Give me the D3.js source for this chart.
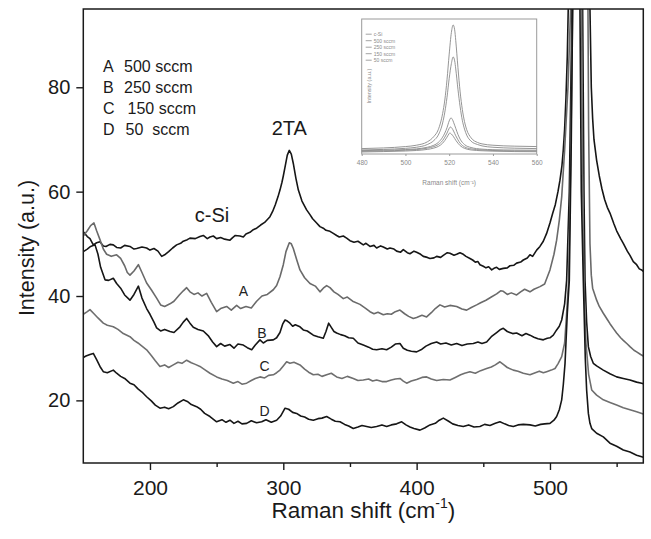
<!DOCTYPE html>
<html>
<head>
<meta charset="utf-8">
<script src="https://cdn.jsdelivr.net/npm/d3@7/dist/d3.min.js"></script>
<style>
  html, body { margin: 0; padding: 0; background: #fff; }
  svg { display: block; font-family: "Liberation Sans", Arial, Helvetica, sans-serif; }
</style>
</head>
<body>
<svg id="chart" width="651" height="539"></svg>
<script>
// Raman spectra of Si films: [wavenumber cm^-1, intensity a.u.]
const cSi = [
  [150,52.3],[153,51.4],[155,51.0],[157.5,49.8],[160,50.2],[162.5,50.4],[165,49.6],[167,49.5],[170,49.9],[172.5,49.8],
  [175,49.3],[178,49.2],[181,49.7],[185,49.5],[188,49.0],[190,49.1],[194,49.4],[197.5,49.2],[200,48.8],[203,49.1],
  [206,48.6],[208.8,47.6],[211,47.9],[214,48.5],[217,49.2],[220,49.8],[223,50.1],[225,50.5],[228,50.8],[230,51.1],
  [234,51.0],[237.5,51.4],[240,51.6],[243,51.0],[245,51.3],[247.5,51.5],[250,51.0],[253,51.2],[256,50.9],[260,50.7],
  [262,51.2],[264,51.6],[267.5,51.5],[270,51.3],[272,51.9],[275,52.2],[277.5,52.7],[280,53.0],[283,53.6],[286,54.1],
  [290,55.2],[292,56.2],[294,57.5],[296,59.0],[297.5,60.3],[299,61.8],[300,63.0],[301.5,65.0],[303,67.0],[304.5,67.9],
  [306,67.2],[307.5,65.4],[309.5,62.5],[311.3,60.3],[314,58.2],[317.5,56.5],[320,55.6],[322,54.8],[325,54.0],[327.5,53.3],
  [330,53.0],[332,52.6],[335,52.4],[337.5,52.0],[340,51.6],[342,51.3],[345,51.5],[347.5,51.1],[350,50.6],[353,50.3],
  [356,50.5],[360,49.8],[362,50.1],[365,49.5],[368,49.7],[370,49.2],[373,49.6],[375,49.4],[378,49.0],[380,49.2],
  [383,49.0],[385,48.6],[388,48.4],[390,48.9],[393,48.3],[395,48.1],[398,48.6],[400,48.4],[403,48.0],[405,47.6],
  [408,47.4],[410,47.2],[413,47.3],[415,47.6],[418,47.4],[420,47.8],[423,48.3],[425,48.2],[428,47.8],[430,48.0],
  [432.5,48.3],[435,48.0],[437,47.6],[440,47.2],[442,46.9],[444,46.5],[446,46.6],[447.5,46.0],[450,45.7],[452,45.4],
  [454,45.6],[456.3,45.0],[458,45.3],[460,45.5],[462,45.1],[465,45.3],[468,45.4],[470,45.8],[473,45.9],[475,46.3],
  [478,46.5],[480,46.9],[483,47.3],[485,47.9],[487,47.6],[490,48.8],[492.5,49.5],[495,50.5],[497.5,52.0],[500,54.0],
  [502,55.8],[504,57.5],[506,60.0],[507.5,62.2],[509,65.0],[510,68.0],[511,72.0],[512,78.0],[513,86.0],[513.7,95.0],
  [514.5,115.0],[516,160.0],[518.5,260.0],[521.5,400.0],[524.5,260.0],[527.5,150.0],[529,115.0],[530,95.0],[531,80.0],
  [532,74.0],[533,70.0],[535,66.0],[537,63.0],[539,60.5],[541,58.5],[543,57.0],[545,55.9],[548,53.8],[550,52.5],
  [553,51.0],[555,50.1],[558,48.6],[560,47.8],[562.5,46.6],[565,46.0],[567,45.2],[568.8,45.0],[570,44.7]
];

const seriesA = [
  [150,51.5],[153,52.5],[155.5,53.5],[158,54.0],[160,52.5],[162.5,50.8],[165,49.0],[167.5,48.0],[171,47.6],[175,47.9],
  [178,47.2],[181,45.8],[183,44.5],[185,44.0],[188,44.8],[191.3,46.0],[194,44.5],[197.5,42.5],[201,41.2],[205,39.6],
  [208,38.3],[211,38.0],[215,38.5],[218,39.0],[222,40.2],[225,41.0],[227.5,41.6],[230,40.8],[233,40.3],[236,40.6],
  [239,40.0],[242.5,40.5],[246,38.8],[250,37.0],[253,37.6],[257.5,38.0],[261,37.3],[265,38.2],[268,37.6],[272,38.0],
  [276,37.7],[280,39.0],[284,40.0],[288,40.3],[292.5,41.2],[295,42.0],[297.5,43.7],[300,46.0],[302,48.5],[304.5,50.2],
  [306,50.0],[307.5,49.1],[310,47.0],[312.5,45.0],[316,43.5],[320,42.4],[324,41.9],[327.5,40.8],[330,41.5],[332.5,42.0],
  [335,41.6],[338,40.8],[341,40.3],[345,39.5],[348,39.8],[352,39.0],[357.5,38.4],[362,37.6],[365,37.0],[368,36.6],
  [371,36.9],[375,36.4],[378,36.6],[381,36.5],[384,37.0],[387.5,37.3],[391,36.6],[394,36.1],[397.5,35.7],[400,35.9],
  [404,36.3],[407.5,36.0],[411,36.8],[414,37.6],[417.5,38.3],[421,37.9],[425,38.2],[430,38.0],[434,37.5],[437.5,37.3],
  [441,37.8],[445,38.3],[448,38.7],[452,39.2],[456,39.8],[460,40.4],[463,41.0],[465,40.9],[468,40.3],[471,40.6],
  [475,40.2],[478,40.8],[481,41.3],[485,40.8],[488,41.3],[492.5,41.8],[496,42.3],[500,45.0],[503,48.0],[505,50.7],
  [507,54.5],[508.8,59.0],[511,68.0],[513.5,80.0],[515.5,95.0],[516.5,130.0],[518.5,230.0],[521,400.0],[523.5,230.0],
  [525.5,150.0],[527.5,115.0],[528.5,95.0],[529,72.0],[530,50.0],[531,44.0],[532,41.5],[535,39.2],[537,38.0],[540,36.7],
  [543,35.5],[545,34.7],[548,33.6],[550,32.9],[553,32.0],[555,31.5],[558,30.8],[560,30.3],[563,29.6],[565,29.3],
  [568,28.8],[570,28.5]
];

const seriesB = [
  [150,48.5],[153,49.0],[155.5,49.5],[158.8,49.8],[161,48.0],[163,45.5],[166.3,43.1],[169,43.0],[172.5,43.4],[175,42.4],
  [178,41.5],[181,40.2],[185,39.2],[188,40.3],[191.3,41.9],[194,39.6],[197.5,37.6],[200,36.5],[203,35.0],[205,33.9],
  [208,33.3],[211,33.6],[215,33.2],[218,33.0],[222.5,34.1],[225,35.0],[227.5,35.7],[230,34.8],[232.5,34.0],[236,33.6],
  [240,33.3],[244,32.3],[247,31.2],[250,30.3],[253,30.9],[256,30.4],[260,30.7],[263,30.0],[266,30.8],[270,30.6],
  [273,30.1],[276.3,29.7],[279,30.6],[282.5,31.6],[285,31.0],[288,31.5],[292.5,31.6],[295,32.0],[297.5,33.0],[299.5,34.6],
  [301.3,35.4],[303,35.2],[305,34.8],[307,34.2],[309,34.5],[312.5,34.1],[315,33.5],[318,33.3],[322.5,32.5],[326,32.2],
  [330,31.9],[332,33.2],[334,34.8],[336,34.0],[338,33.2],[340,32.9],[343,32.6],[346,32.4],[349,32.0],[352.5,31.9],
  [356,31.0],[360,30.6],[364,30.2],[367,29.8],[370,29.7],[374,29.9],[377.5,29.7],[381,30.2],[384,30.8],[387.5,30.9],
  [390,30.0],[393,29.6],[396,29.4],[400,29.3],[404,29.8],[407,30.4],[411,30.9],[415,31.2],[418,30.8],[422,31.0],
  [426,30.6],[430,30.9],[434,30.5],[438,30.8],[442.5,30.9],[446,31.2],[449,30.9],[452.5,31.2],[456,32.2],[460,33.0],
  [463,33.6],[465,33.8],[468,33.2],[472,32.8],[475,32.9],[479,32.4],[482,32.8],[485,32.5],[488,32.1],[491,31.8],
  [495,31.6],[498,31.9],[500,32.0],[502.5,32.5],[505,33.5],[507,34.2],[508.8,35.4],[511,38.5],[512.5,43.0],[514.5,60.0],
  [516.5,95.0],[517.5,140.0],[520.5,400.0],[523.5,140.0],[524.5,95.0],[525.5,60.0],[526.3,43.0],[527.5,35.0],[528.8,30.3],
  [530.5,28.4],[532.5,27.1],[535,26.6],[540,25.8],[545,25.1],[550,24.5],[555,24.2],[560,23.9],[565,23.5],[568.8,23.3],
  [570,23.2]
];

const seriesC = [
  [150,36.5],[153,37.0],[155,37.4],[158,36.6],[161,35.8],[165,34.8],[168,34.4],[172.5,34.1],[176,33.6],[180,32.8],
  [185,32.2],[188,31.5],[191,31.0],[194,30.4],[197.5,29.7],[201,28.6],[204,27.6],[207.5,26.5],[211,26.8],[214,26.3],
  [217.5,26.8],[221,27.3],[224,27.1],[227.5,27.7],[231,27.2],[234,26.9],[237.5,26.5],[241,25.9],[245,25.2],[250,24.5],
  [254,24.1],[258,23.8],[262.5,23.3],[266,23.6],[269,23.1],[272.5,23.3],[276,23.8],[279,24.2],[282.5,24.5],[286,24.3],
  [289,24.8],[292.5,24.9],[295,25.3],[297.5,25.8],[300,26.6],[302.5,27.4],[305,27.1],[308,27.3],[312.5,26.8],[316,26.0],
  [319,25.4],[322.5,24.9],[326,25.0],[329,24.6],[332.5,24.9],[336,25.2],[340,24.5],[344,24.2],[348,24.6],[352.5,24.2],
  [356,23.8],[360,23.9],[364,24.1],[367,23.7],[370,23.9],[374,23.6],[377.5,23.6],[381,23.9],[384,24.1],[387.5,24.2],
  [390,23.7],[392.5,23.3],[396,23.7],[400,24.0],[404,24.4],[407.5,24.5],[411,24.1],[415,23.8],[420,24.0],[425,23.9],
  [429,24.4],[433,24.9],[436,25.2],[440,25.5],[444,25.2],[448,25.7],[452.5,26.1],[456,26.4],[459,26.8],[462.5,27.4],
  [465,26.9],[468,26.3],[472.5,25.8],[476,25.6],[480,25.2],[485,24.9],[488,25.2],[492,25.6],[495,25.3],[497.5,25.5],
  [501,25.8],[503.8,26.1],[506,27.0],[508.8,28.4],[511,31.0],[512.5,36.7],[514,43.0],[515.5,65.0],[517,95.0],[518,140.0],
  [520.5,400.0],[523,140.0],[523.7,95.0],[524.5,62.0],[525.5,42.0],[527,31.0],[529,25.0],[531.3,22.0],[535,21.0],[540,20.1],
  [545,19.6],[550,19.1],[555,18.6],[560,18.2],[565,17.8],[570,17.4]
];

const seriesD = [
  [150,28.2],[152,28.5],[155,28.8],[157.5,29.0],[160,27.8],[162.5,26.5],[165,25.5],[168,25.3],[172.5,25.8],[175,25.2],
  [178,24.6],[181,24.2],[185,23.3],[188,23.0],[191,22.2],[194,21.6],[197.5,20.7],[201,19.9],[204,19.1],[207.5,18.5],
  [211,18.7],[214,18.4],[217.5,18.8],[221,19.5],[225,20.1],[228,19.8],[231,19.2],[235,18.8],[238,18.3],[241,17.5],
  [245,16.9],[250,15.9],[254,16.3],[257,15.8],[260,16.2],[263,15.6],[266,16.0],[269,15.5],[272.5,15.6],[276,16.1],
  [280,15.7],[283.8,15.9],[287,16.3],[291,15.8],[295,16.2],[298,17.0],[301.3,18.5],[304,18.3],[307,17.7],[310,17.5],
  [313,17.0],[316,16.8],[319,16.4],[322.5,16.2],[326,16.5],[329,16.6],[332.5,16.9],[336,16.4],[339,16.0],[342.5,15.9],
  [346,15.4],[349,15.1],[352.5,14.6],[356,14.9],[359,15.2],[362.5,15.0],[366,14.8],[370,15.0],[374,15.3],[377.5,15.0],
  [381,15.3],[385,15.5],[388.8,15.9],[392,15.3],[395,14.9],[398,14.6],[402.5,14.3],[406,14.7],[410,15.3],[414,15.6],
  [417,16.2],[420,16.6],[424,16.0],[427,15.5],[431,15.2],[435,15.0],[439,15.3],[443,14.9],[447.5,15.0],[451,15.4],
  [455,15.2],[459,15.6],[462.5,15.9],[466,15.5],[469,15.2],[472.5,15.0],[476,15.3],[480,15.4],[485,15.3],[489,15.1],
  [493,15.4],[496,15.5],[500,15.6],[503,16.2],[505,16.9],[507,18.2],[508.8,20.1],[510,23.0],[511.3,27.1],[513,36.7],
  [514.5,43.0],[516,70.0],[517,95.0],[518,140.0],[520,400.0],[522,140.0],[522.5,95.0],[523.5,60.0],[525,43.0],[526.5,28.0],
  [527.5,22.0],[528.8,17.5],[530,15.6],[531.3,14.6],[535,13.7],[540,13.0],[545,11.8],[550,11.2],[555,10.5],[560,10.1],
  [565,9.5],[568.8,9.2],[570,9.1]
];

const series = [
  { key: "c-Si", data: cSi,     color: "#161616" },
  { key: "A",    data: seriesA, color: "#6a6a6a" },
  { key: "B",    data: seriesB, color: "#161616" },
  { key: "C",    data: seriesC, color: "#6f6f6f" },
  { key: "D",    data: seriesD, color: "#161616" }
];

const xTicks = [200, 300, 400, 500];
const xMinorTicks = [250, 350, 450, 550];
const yTicks = [20, 40, 60, 80];

const legendLines = [
  ["A", "500 sccm", 0], ["B", "250 sccm", 0], ["C", "150 sccm", 3.5], ["D", "50  sccm", 1.5]
];

const curveLabels = [
  { text: "A", x: 270, y: 40.0 },
  { text: "B", x: 284, y: 32.0 },
  { text: "C", x: 286, y: 25.6 },
  { text: "D", x: 286, y: 17.0 }
];

// Inset: Si optical-phonon peak, same samples, 480-560 cm^-1
const insetKeys = ["c-Si", "500 sccm", "250 sccm", "150 sccm", "50 sccm"];
const insetCSi = [[480,4.0],[490,4.5],[500,5.5],[505,6.5],[510,9],[513,13],[515,18],[517,30],[518,40],[519,55],[520,74],[521,90],[521.8,95.6],[522.5,92],[523,84],[524,64],[525,46],[526,33],[527,24],[528,18],[530,12],[533,8.5],[535,7.5],[540,6.5],[550,5.8],[560,5.5]];
const inset500 = [[480,3],[490,3.4],[500,4.2],[505,5],[510,7],[513,10],[515,14],[517,23],[518,31],[519,42],[520,56],[521,67],[521.8,71.9],[522.5,69],[523,63],[524,48],[525,35],[526,25],[527,18.5],[528,14],[530,9.5],[533,7],[535,6],[540,5],[550,4.3],[560,4]];
const inset250 = [[480,2.5],[490,2.8],[500,3.3],[505,3.8],[510,5],[513,6.5],[515,8.5],[517,12.5],[518,15.5],[519,19.5],[520,24.5],[520.8,26.7],[521.5,25.5],[522,23.5],[523,19],[524,14.5],[525,11],[527,7],[530,4.8],[535,3.6],[540,3.2],[550,2.9],[560,2.8]];
const inset150 = [[480,2.0],[490,2.3],[500,2.8],[505,3.3],[510,4.3],[513,5.5],[515,7],[517,10],[518,12.5],[519,15.5],[520,19],[520.5,20],[521.3,19],[522,17],[523,13.5],[524,10.5],[525,8],[527,5.3],[530,3.8],[535,3],[540,2.6],[550,2.3],[560,2.2]];
const inset50 = [[480,1.5],[490,1.8],[500,2.2],[505,2.6],[510,3.4],[513,4.4],[515,5.6],[517,8],[518,10],[519,12.5],[520,15.2],[520.2,15.6],[521,14.8],[522,12.8],[523,10.2],[524,8],[525,6.2],[527,4.2],[530,3],[535,2.4],[540,2.1],[550,1.8],[560,1.7]];
const insetSeries = [insetCSi, inset500, inset250, inset150, inset50];
const insetXTicks = [480, 500, 520, 540, 560];

// ---------- main plot ----------
const svg = d3.select("#chart");
const plot = { left: 83.3, right: 643.3, top: 9, bottom: 463 };

const x = d3.scaleLinear().domain([150, 570]).range([plot.left, plot.right]);
const y = d3.scaleLinear().domain([8, 95]).range([plot.bottom, plot.top]);

svg.append("rect").attr("width", 651).attr("height", 539).attr("fill", "#fff");

svg.append("defs").append("clipPath").attr("id", "plotClip")
  .append("rect")
  .attr("x", plot.left).attr("y", plot.top)
  .attr("width", plot.right - plot.left).attr("height", plot.bottom - plot.top);

const line = d3.line().x(d => x(d[0])).y(d => y(d[1]));

const lines = svg.append("g").attr("clip-path", "url(#plotClip)");
lines.selectAll("path")
  .data(series)
  .join("path")
  .attr("d", d => line(d.data))
  .attr("fill", "none")
  .attr("stroke", d => d.color)
  .attr("stroke-width", 1.6)
  .attr("stroke-linejoin", "round");

// axes
const xAxis = svg.append("g")
  .attr("transform", `translate(0,${plot.bottom})`)
  .call(d3.axisBottom(x).tickValues(xTicks).tickSize(7).tickPadding(10).tickFormat(d3.format("d")));
const xMinor = svg.append("g")
  .attr("transform", `translate(0,${plot.bottom})`)
  .call(d3.axisBottom(x).tickValues(xMinorTicks).tickSize(4).tickFormat(""));
const yAxis = svg.append("g")
  .attr("transform", `translate(${plot.left},0)`)
  .call(d3.axisLeft(y).tickValues(yTicks).tickSize(7).tickPadding(6).tickFormat(d3.format("d")));

[xAxis, xMinor, yAxis].forEach(g => {
  g.select(".domain").remove();
  g.selectAll(".tick line").attr("stroke", "#1a1a1a").attr("stroke-width", 1.4);
  g.selectAll(".tick text").attr("fill", "#1a1a1a")
    .attr("font-family", "'Liberation Sans', Arial, sans-serif");
});
xAxis.selectAll(".tick text").attr("font-size", 21);
yAxis.selectAll(".tick text").attr("font-size", 20);

// frame
svg.append("rect")
  .attr("x", plot.left).attr("y", plot.top)
  .attr("width", plot.right - plot.left).attr("height", plot.bottom - plot.top)
  .attr("fill", "none").attr("stroke", "#1a1a1a").attr("stroke-width", 1.5);

// axis titles
const xTitle = svg.append("text")
  .attr("x", (plot.left + plot.right) / 2).attr("y", 518)
  .attr("text-anchor", "middle").attr("font-size", 22.5).attr("fill", "#1a1a1a");
xTitle.append("tspan").text("Raman shift (cm");
xTitle.append("tspan").text("-1").attr("font-size", 14).attr("dy", -10);
xTitle.append("tspan").text(")").attr("dy", 10);

svg.append("text")
  .attr("transform", "translate(34,248) rotate(-90)")
  .attr("text-anchor", "middle").attr("font-size", 21.5).attr("fill", "#1a1a1a")
  .text("Intensity (a.u.)");

// legend (sample list)
const legend = svg.append("g").attr("font-size", 16).attr("fill", "#1a1a1a");
legendLines.forEach((d, i) => {
  const yy = 72.3 + i * 21;
  legend.append("text").attr("x", 103).attr("y", yy).text(d[0]);
  legend.append("text").attr("x", 124 + d[2]).attr("y", yy).attr("xml:space", "preserve").text(d[1]);
});

// peak / curve annotations
svg.append("text").attr("x", x(246.5)).attr("y", y(54.2)).attr("text-anchor", "middle")
  .attr("font-size", 20).attr("fill", "#1a1a1a").text("c-Si");
svg.append("text").attr("x", x(304.5)).attr("y", y(70.9)).attr("text-anchor", "middle")
  .attr("font-size", 20).attr("fill", "#1a1a1a").text("2TA");
curveLabels.forEach(d => {
  svg.append("text").attr("x", x(d.x)).attr("y", y(d.y)).attr("text-anchor", "middle")
    .attr("font-size", 14).attr("fill", "#222").text(d.text);
});

// ---------- inset ----------
const ins = { left: 361.7, right: 536.7, top: 19, bottom: 154 };
const ix = d3.scaleLinear().domain([480, 560]).range([ins.left, ins.right]);
const iy = d3.scaleLinear().domain([0, 100]).range([ins.bottom, ins.top]);
const inset = svg.append("g");

inset.append("rect")
  .attr("x", ins.left).attr("y", ins.top)
  .attr("width", ins.right - ins.left).attr("height", ins.bottom - ins.top)
  .attr("fill", "#fff").attr("stroke", "#9a9a9a").attr("stroke-width", 1);

const iline = d3.line().x(d => ix(d[0])).y(d => iy(d[1])).curve(d3.curveMonotoneX);
inset.selectAll("path.ispec")
  .data(insetSeries)
  .join("path")
  .attr("class", "ispec")
  .attr("d", d => iline(d))
  .attr("fill", "none")
  .attr("stroke", "#8a8a8a")
  .attr("stroke-width", 0.9);

const ixAxis = inset.append("g")
  .attr("transform", `translate(0,${ins.bottom})`)
  .call(d3.axisBottom(ix).tickValues(insetXTicks).tickSize(2).tickPadding(4));
ixAxis.select(".domain").remove();
ixAxis.selectAll(".tick line").attr("stroke", "#9a9a9a");
ixAxis.selectAll(".tick text").attr("font-size", 6.5).attr("fill", "#8a8a8a");

inset.append("text")
  .attr("x", (ins.left + ins.right) / 2).attr("y", 185)
  .attr("text-anchor", "middle").attr("font-size", 6.5).attr("fill", "#8a8a8a")
  .text("Raman shift (cm⁻¹)");
inset.append("text")
  .attr("transform", `translate(${ins.left + 9},86) rotate(-90)`)
  .attr("text-anchor", "middle").attr("font-size", 5.5).attr("fill", "#8a8a8a")
  .text("Intensity (a.u.)");

insetKeys.forEach((k, i) => {
  const yy = 36 + i * 6.5;
  inset.append("line")
    .attr("x1", ins.left + 4).attr("x2", ins.left + 10)
    .attr("y1", yy - 1.8).attr("y2", yy - 1.8)
    .attr("stroke", "#8a8a8a").attr("stroke-width", 0.8);
  inset.append("text").attr("x", ins.left + 12).attr("y", yy)
    .attr("font-size", 5).attr("fill", "#8a8a8a").text(k);
});
</script>
</body>
</html>
